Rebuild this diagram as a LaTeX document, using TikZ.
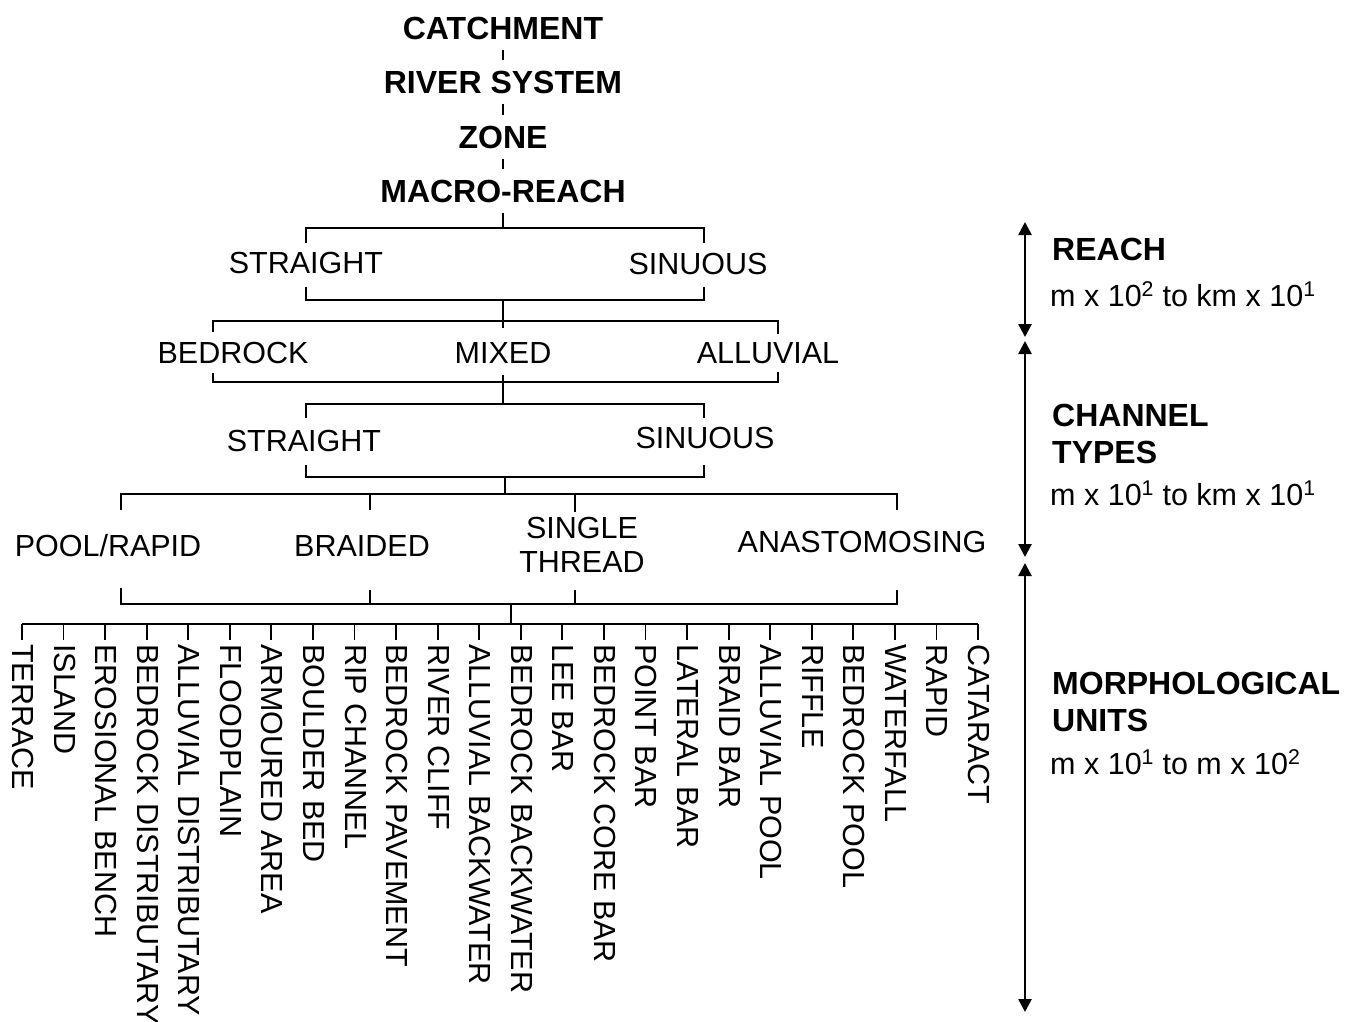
\documentclass[tikz,border=0pt]{standalone}
\usepackage{fontspec}
\setmainfont{Liberation Sans}
\usetikzlibrary{arrows.meta}
\begin{document}
\begin{tikzpicture}[x=1pt,y=-1pt,
  lbl/.style={font=\fontsize{30.5}{34}\selectfont, inner sep=0pt, text height=21.8pt, text depth=0pt},
  ttl/.style={font=\fontsize{32}{36}\selectfont\bfseries, inner xsep=0pt, inner ysep=10pt, text height=22.9pt, text depth=0pt},
  unitlbl/.style={font=\fontsize{30.5}{34}\selectfont, inner sep=0pt, rotate=-90, anchor=base west},
  tree/.style={line width=1.8pt},
  scalearrow/.style={line width=2.6pt, {Triangle[width=13pt,length=13pt]}-{Triangle[width=13pt,length=13pt]}},
  side/.style={font=\fontsize{32}{36}\selectfont\bfseries, anchor=base west, inner sep=0pt},
  sidesub/.style={font=\fontsize{30.5}{34}\selectfont, anchor=base west, inner sep=0pt},
]
\useasboundingbox (0,0) rectangle (1360,1022);

% ---- hierarchy titles ----
\node[ttl] (cat)   at (503,28)  {CATCHMENT};
\node[ttl] (riv)   at (503,82)  {RIVER SYSTEM};
\node[ttl] (zone)  at (503,137) {ZONE};
\node[ttl] (macro) at (503,191) {MACRO-REACH};
\draw[tree] (cat) -- (riv);
\draw[tree] (riv) -- (zone);
\draw[tree] (zone) -- (macro);

% ---- reach planform ----
\coordinate (j1) at (503,228);
\draw[tree] (macro) -- (j1);
\node[lbl] (st1) at (306,263) {STRAIGHT};
\node[lbl] (si1) at (698,264) {SINUOUS};
\draw[tree] (306,243) -- (306,228) -- (704,228) -- (704,243);
\draw[tree] (306,287) -- (306,300) -- (704,300) -- (704,287);
\draw[tree] (503,300) -- (503,321);

% ---- bed material ----
\node[lbl] (bed) at (233,353) {BEDROCK};
\node[lbl] (mix) at (503,353) {MIXED};
\node[lbl] (all) at (768,353) {ALLUVIAL};
\draw[tree] (213,332) -- (213,321) -- (778,321) -- (778,334);
\draw[tree] (503,321) -- (503,328);
\draw[tree] (213,373) -- (213,382) -- (778,382) -- (778,372);
\draw[tree] (503,375) -- (503,404);

% ---- channel planform ----
\node[lbl] (st2) at (304,441) {STRAIGHT};
\node[lbl] (si2) at (705,438) {SINUOUS};
\draw[tree] (306,418) -- (306,404) -- (704,404) -- (704,418);
\draw[tree] (306,465) -- (306,477) -- (704,477) -- (704,465);
\draw[tree] (505,477) -- (505,494);

% ---- channel types ----
\node[lbl] (pool) at (108,546) {POOL/RAPID};
\node[lbl] (brd)  at (362,546) {BRAIDED};
\node[font=\fontsize{30.5}{34}\selectfont, inner sep=0pt, align=center] (sgl) at (582,545) {SINGLE\\THREAD};
\node[lbl] (ana)  at (862,542) {ANASTOMOSING};
\draw[tree] (121,510) -- (121,494) -- (897,494) -- (897,510);
\draw[tree] (370,494) -- (370,510);
\draw[tree] (575,494) -- (575,512);
\draw[tree] (121,588) -- (121,604) -- (897,604) -- (897,590);
\draw[tree] (370,590) -- (370,604);
\draw[tree] (575,590) -- (575,604);
\draw[tree] (511,604) -- (511,624);

% ---- morphological units ----
\draw[tree] (22,624) -- (978,624);
\foreach \nm [count=\i from 0] in {TERRACE, ISLAND, EROSIONAL BENCH, BEDROCK DISTRIBUTARY,
  ALLUVIAL DISTRIBUTARY, FLOODPLAIN, ARMOURED AREA, BOULDER BED, RIP CHANNEL,
  BEDROCK PAVEMENT, RIVER CLIFF, ALLUVIAL BACKWATER, BEDROCK BACKWATER, LEE BAR,
  BEDROCK CORE BAR, POINT BAR, LATERAL BAR, BRAID BAR, ALLUVIAL POOL, RIFFLE,
  BEDROCK POOL, WATERFALL, RAPID, CATARACT}{
  \pgfmathsetmacro\xx{22+\i*41.565}
  \node[unitlbl] (u\i) at (\xx-9.5,644) {\nm};
  \draw[tree] (\xx,624) -- (\xx,640);
}

% ---- scale arrows ----
\coordinate (r1t) at (1025,222);
\coordinate (r1b) at (1025,337);
\coordinate (r2t) at (1025,341);
\coordinate (r2b) at (1025,557);
\coordinate (r3t) at (1025,563);
\coordinate (r3b) at (1025,1012);
\draw[scalearrow] (r1t) -- (r1b);
\draw[scalearrow] (r2t) -- (r2b);
\draw[scalearrow] (r3t) -- (r3b);

\node[side] (reach) at (1052,260) {REACH};
\node[sidesub] (reachs) at (1050,306) {m x 10\textsuperscript{2} to km x 10\textsuperscript{1}};
\node[side] (chan) at (1052,426) {CHANNEL};
\node[side] (types) at (1052,463) {TYPES};
\node[sidesub] (chans) at (1050,505) {m x 10\textsuperscript{1} to km x 10\textsuperscript{1}};
\node[side] (morph) at (1052,694) {MORPHOLOGICAL};
\node[side] (units) at (1052,731) {UNITS};
\node[sidesub] (morphs) at (1050,774) {m x 10\textsuperscript{1} to m x 10\textsuperscript{2}};
\end{tikzpicture}
\end{document}
